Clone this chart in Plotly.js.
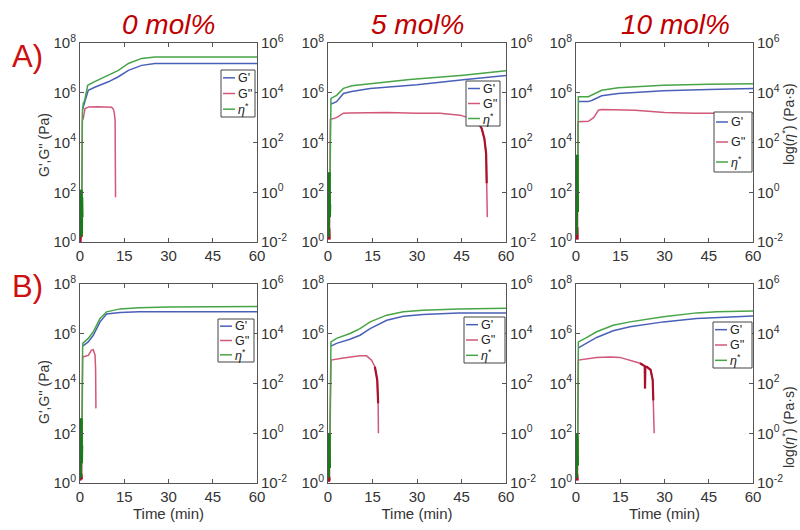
<!DOCTYPE html>
<html><head><meta charset="utf-8">
<script src="https://cdn.plot.ly/plotly-3.0.1.min.js"></script>
<style>html,body{margin:0;padding:0;background:#fff}#chart{width:800px;height:530px}</style>
</head><body><div id="chart"></div>
<script>
// ---------- tick labels ----------
const xTickVals = [0, 15, 30, 45, 60];
const leftTickVals = [1, 1e2, 1e4, 1e6, 1e8];
const leftTickText = ['10<sup>0</sup>', '10<sup>2</sup>', '10<sup>4</sup>', '10<sup>6</sup>', '10<sup>8</sup>'];
const rightTickVals = [1e-2, 1, 1e2, 1e4, 1e6];
const rightTickText = ['10<sup>-2</sup>', '10<sup>0</sup>', '10<sup>2</sup>', '10<sup>4</sup>', '10<sup>6</sup>'];
const panelTitles = ['0 mol%', '5 mol%', '10 mol%'];
const rowLabels = ['A)', 'B)'];
const seriesNames = ["G'", "G''", '<i>η</i><sup>*</sup>'];

// ---------- A) 0 mol% ----------
const tGpA1  = [0.8, 1.1, 1.7, 2.3, 2.8, 5, 9.6, 13, 16.4, 20.9, 25.4, 30, 45, 60];
const GpA1   = [2.0e5, 2.7e5, 5.0e5, 7.9e5, 1.26e6, 1.66e6, 2.75e6, 4.4e6, 7.9e6, 1.26e7, 1.5e7, 1.5e7, 1.5e7, 1.5e7];
const tGppA1 = [0.1, 0.2, 0.3, 0.4, 0.5, 0.6, 0.8, 1.1, 1.7, 3, 6, 9, 10.7, 11.3, 11.6, 11.9, 12.0, 12.05];
const GppA1  = [1, 3.2, 1.3, 4.0, 1.6, 3.2, 7.9e4, 9.3e4, 2.3e5, 2.7e5, 2.75e5, 2.7e5, 2.6e5, 2.2e5, 1.6e5, 7.9e4, 1.0e3, 63];
const tEtaA1 = [0.1, 0.2, 0.3, 0.4, 0.5, 0.6, 0.7, 0.8, 1.1, 1.6, 2.3, 2.6, 5, 9.6, 13, 16.4, 20.9, 25.4, 30, 45, 60];
const etaA1  = [0.016, 1.0, 0.032, 1.26, 0.02, 0.63, 0.1, 1.6e3, 3.7e3, 5.0e3, 1.26e4, 2.0e4, 2.8e4, 5.0e4, 7.9e4, 1.5e5, 2.4e5, 2.75e5, 2.75e5, 2.75e5, 2.75e5];

// ---------- A) 5 mol% ----------
const tGpA2  = [1.0, 2.9, 5.2, 8, 14.2, 30, 45.6, 60];
const GpA2   = [3.5e5, 4.4e5, 9.3e5, 1.12e6, 1.48e6, 2.1e6, 3.3e6, 4.9e6];
const tGppA2 = [0.1, 0.2, 0.3, 0.4, 0.5, 0.8, 2.9, 5.2, 7, 20, 30, 37.7, 44.5, 50.1, 51.8, 52.7, 53.3, 53.5, 53.7];
const GppA2  = [1.26, 4.0, 1.6, 3.2, 1.26, 8.5e4, 1.0e5, 1.5e5, 1.55e5, 1.6e5, 1.5e5, 1.5e5, 1.26e5, 7.9e4, 3.7e4, 1.45e4, 3.6e3, 230, 10];
const tEtaA2 = [0.1, 0.2, 0.3, 0.4, 0.5, 0.6, 1.0, 2.9, 5.2, 8, 14.2, 27.6, 45.6, 60];
const etaA2  = [0.016, 3.2, 0.032, 6.3, 0.1, 0.32, 5.9e3, 7.9e3, 1.5e4, 1.9e4, 2.3e4, 3.4e4, 5.1e4, 7.6e4];

// ---------- A) 10 mol% ----------
const tGpA3  = [0.8, 4.2, 5.5, 8.7, 14.3, 29.6, 45, 60];
const GpA3   = [4.4e5, 4.4e5, 5.0e5, 7.6e5, 9.3e5, 1.2e6, 1.35e6, 1.48e6];
const tGppA3 = [0.1, 0.2, 0.3, 0.4, 0.5, 0.7, 4.2, 6, 7.6, 8.8, 20, 30, 40, 60];
const GppA3  = [1.26, 3.2, 1.6, 4.0, 1.26, 6.8e4, 7.1e4, 1.0e5, 2.0e5, 2.1e5, 2.0e5, 1.6e5, 1.5e5, 1.5e5];
const tEtaA3 = [0.1, 0.2, 0.3, 0.4, 0.5, 0.8, 4.2, 6, 8.7, 14.3, 29.6, 45, 60];
const etaA3  = [0.02, 2.0, 0.04, 32, 0.16, 6.9e3, 6.9e3, 8.9e3, 1.26e4, 1.6e4, 2.0e4, 2.2e4, 2.3e4];

// ---------- B) 0 mol% ----------
const tGpB1  = [0.9, 2.8, 4.5, 6.8, 9.0, 13.6, 20, 60];
const GpB1   = [3.2e5, 4.7e5, 8.7e5, 3.0e6, 6.2e6, 7.2e6, 7.6e6, 7.6e6];
const tGppB1 = [0.1, 0.2, 0.3, 0.4, 0.6, 0.9, 2.8, 3.9, 4.5, 5.1, 5.3, 5.4];
const GppB1  = [1.26, 2.5, 1.26, 2.24, 1.41, 1.17e5, 1.35e5, 2.2e5, 2.3e5, 1.38e5, 3.5e4, 1.0e3];
const tEtaB1 = [0.1, 0.2, 0.3, 0.4, 0.5, 0.6, 0.9, 2.8, 4.5, 6.8, 9.0, 13.6, 20, 30, 60];
const etaB1  = [0.016, 2.5, 0.025, 4.0, 0.063, 0.32, 4.1e3, 6.5e3, 1.2e4, 4.1e4, 7.6e4, 1.0e5, 1.12e5, 1.2e5, 1.26e5];

// ---------- B) 5 mol% ----------
const tGpB2  = [1.0, 2.9, 7.4, 10.8, 14.2, 19.8, 25.4, 32, 44, 60];
const GpB2   = [3.2e5, 4.1e5, 6.0e5, 8.7e5, 1.6e6, 3.5e6, 5.1e6, 6.0e6, 6.8e6, 6.8e6];
const tGppB2 = [0.1, 0.2, 0.3, 0.4, 0.5, 1.0, 5.2, 10.8, 13, 14.7, 15.8, 16.6, 16.9, 17.0];
const GppB2  = [1.26, 2.0, 1.12, 1.78, 1.26, 8.7e4, 1.07e5, 1.29e5, 1.29e5, 8.7e4, 4.7e4, 1.38e4, 1.6e3, 100];
const tEtaB2 = [0.1, 0.2, 0.3, 0.4, 0.5, 1.0, 2.9, 7.4, 10.8, 14.2, 19.8, 25.4, 32, 44, 60];
const etaB2  = [0.016, 0.8, 0.025, 1.0, 0.04, 4.7e3, 6.5e3, 1.02e4, 1.6e4, 3.0e4, 5.6e4, 7.6e4, 8.9e4, 1.0e5, 1.05e5];

// ---------- B) 10 mol% ----------
const tGpB3  = [0.8, 3.1, 7, 12.6, 18.3, 29.6, 40.9, 60];
const GpB3   = [2.7e5, 3.8e5, 7.1e5, 1.32e6, 1.9e6, 3.0e6, 4.1e6, 5.2e6];
const tGppB3 = [0.1, 0.2, 0.3, 0.4, 0.5, 0.8, 7, 11.5, 14.9, 18.3, 21.7, 23.3, 23.4, 23.5, 24, 25.3, 26, 26.2, 26.5];
const GppB3  = [1.26, 2.5, 1.26, 2.0, 1.26, 8.7e4, 1.12e5, 1.17e5, 1.12e5, 8.7e4, 6.5e4, 5.0e4, 6.3e3, 4.8e4, 4.7e4, 3.5e4, 1.38e4, 2.1e3, 100];
const tEtaB3 = [0.1, 0.2, 0.3, 0.4, 0.5, 0.8, 3.1, 7, 12.6, 18.3, 29.6, 40.9, 47.7, 60];
const etaB3  = [0.016, 1.0, 0.032, 0.63, 0.05, 4.7e3, 6.5e3, 1.2e4, 2.2e4, 3.0e4, 4.8e4, 6.9e4, 7.6e4, 8.3e4];

// ---------- layout helpers (pixels in an 800x530 page) ----------
const W = 800, H = 530;
const colPx = [[80, 257], [328, 506], [576, 753]];
const rowPx = [[43, 242], [284, 483]];
const px = x => x / W;
const py = y => 1 - y / H;

const C = {gp: '#4a60b8', gpp: '#d2587a', eta: '#47a447', etaDark: '#187a18', gppDark: '#a8102c'};
const FONT = 'Liberation Sans, Arial, Helvetica, sans-serif';

const panels = [
  {tGp: tGpA1, gp: GpA1, tGpp: tGppA1, gpp: GppA1, tEta: tEtaA1, eta: etaA1, legend: [221, 70, 255, 117], dense: null},
  {tGp: tGpA2, gp: GpA2, tGpp: tGppA2, gpp: GppA2, tEta: tEtaA2, eta: etaA2, legend: [466, 81, 500, 126], dense: [50, 53.5]},
  {tGp: tGpA3, gp: GpA3, tGpp: tGppA3, gpp: GppA3, tEta: tEtaA3, eta: etaA3, legend: [714, 112, 752, 172], dense: null},
  {tGp: tGpB1, gp: GpB1, tGpp: tGppB1, gpp: GppB1, tEta: tEtaB1, eta: etaB1, legend: [218, 319, 254, 362], dense: null},
  {tGp: tGpB2, gp: GpB2, tGpp: tGppB2, gpp: GppB2, tEta: tEtaB2, eta: etaB2, legend: [464, 317, 505, 363], dense: [15.8, 16.9]},
  {tGp: tGpB3, gp: GpB3, tGpp: tGppB3, gpp: GppB3, tEta: tEtaB3, eta: etaB3, legend: [713, 322, 752, 368], dense: [21.7, 26.2]}
];

const traces = [];
const layout = {
  width: W, height: H, margin: {l: 0, r: 0, t: 0, b: 0},
  paper_bgcolor: '#fff', plot_bgcolor: '#fff', showlegend: false,
  font: {family: FONT, color: '#333', size: 15},
  annotations: [], shapes: []
};

const axCommon = {
  showgrid: false, zeroline: false, showline: true, linecolor: '#555', linewidth: 1,
  ticks: 'inside', ticklen: 4, tickcolor: '#555', tickfont: {family: FONT, size: 15, color: '#333'}
};

function pick(t, v, keep) {
  const x = [], y = [];
  t.forEach((ti, i) => { if (keep(ti, v[i])) { x.push(ti); y.push(v[i]); } });
  return {x, y};
}

panels.forEach((p, i) => {
  const n = i + 1, col = i % 3, row = Math.floor(i / 3);
  const xa = 'x' + (n === 1 ? '' : n), ya = 'y' + (n === 1 ? '' : n), y2 = 'y' + (n + 6);
  const xd = [px(colPx[col][0]), px(colPx[col][1])];
  const yd = [py(rowPx[row][1]), py(rowPx[row][0])];

  layout['xaxis' + (n === 1 ? '' : n)] = Object.assign({}, axCommon, {
    domain: xd, anchor: ya, range: [0, 60], tickvals: xTickVals, mirror: 'ticks',
    title: row === 1 ? {text: 'Time (min)', font: {family: FONT, size: 15, color: '#333'}, standoff: 4} : {text: ''}
  });
  layout['yaxis' + (n === 1 ? '' : n)] = Object.assign({}, axCommon, {
    domain: yd, anchor: xa, type: 'log', range: [0, 8], tickvals: leftTickVals, ticktext: leftTickText, mirror: 'ticks'
  });
  layout['yaxis' + (n + 6)] = Object.assign({}, axCommon, {
    domain: yd, anchor: xa, overlaying: ya, side: 'right', type: 'log', range: [-2, 6],
    tickvals: rightTickVals, ticktext: rightTickText
  });

  traces.push({type: 'scatter', mode: 'lines', x: p.tGp, y: p.gp, xaxis: xa, yaxis: ya, name: seriesNames[0],
    line: {color: C.gp, width: 1.5}});
  traces.push({type: 'scatter', mode: 'lines', x: p.tGpp, y: p.gpp, xaxis: xa, yaxis: ya, name: seriesNames[1],
    line: {color: C.gpp, width: 1.5}});
  const gNoise = pick(p.tGpp, p.gpp, (t, v) => t < 1 && v < 10);
  traces.push({type: 'scatter', mode: 'lines', x: gNoise.x, y: gNoise.y, xaxis: xa, yaxis: ya,
    line: {color: C.gppDark, width: 2.5}, hoverinfo: 'skip'});
  if (p.dense) {
    const d = pick(p.tGpp, p.gpp, t => t >= p.dense[0] && t <= p.dense[1]);
    traces.push({type: 'scatter', mode: 'lines', x: d.x, y: d.y, xaxis: xa, yaxis: ya,
      line: {color: C.gppDark, width: 2.2}, hoverinfo: 'skip'});
  }
  traces.push({type: 'scatter', mode: 'lines', x: p.tEta, y: p.eta, xaxis: xa, yaxis: y2, name: seriesNames[2],
    line: {color: C.eta, width: 1.5}});
  const eNoise = pick(p.tEta, p.eta, (t, v) => t < 1 && v < 100);
  traces.push({type: 'scatter', mode: 'lines', x: eNoise.x, y: eNoise.y, xaxis: xa, yaxis: y2,
    line: {color: C.etaDark, width: 3}, hoverinfo: 'skip'});

  // legend box (drawn by hand, MATLAB style)
  const [lx0, ly0, lx1, ly1] = p.legend;
  layout.shapes.push({type: 'rect', xref: 'paper', yref: 'paper', x0: px(lx0), x1: px(lx1), y0: py(ly1), y1: py(ly0),
    fillcolor: '#fff', line: {color: '#444', width: 1}, layer: 'above'});
  const colors = [C.gp, C.gpp, C.eta];
  seriesNames.forEach((nm, k) => {
    const ey = ly0 + (ly1 - ly0) * (k + 0.5) / 3;
    layout.shapes.push({type: 'line', xref: 'paper', yref: 'paper', x0: px(lx0 + 2), x1: px(lx0 + 14), y0: py(ey), y1: py(ey),
      line: {color: colors[k], width: 1.5}, layer: 'above'});
    layout.annotations.push({xref: 'paper', yref: 'paper', x: px(lx0 + 14.5), y: py(ey), xanchor: 'left', yanchor: 'middle',
      text: nm, showarrow: false, font: {family: FONT, size: 12.5, color: '#222'}});
  });
});

const titleX = [168, 417, 675];
panelTitles.forEach((t, k) => layout.annotations.push({xref: 'paper', yref: 'paper', x: px(titleX[k]), y: py(25),
  xanchor: 'center', yanchor: 'middle', text: '<i>' + t + '</i>', showarrow: false,
  font: {family: FONT, size: 28, color: '#c00000'}}));
const rowLabelY = [57, 286];
rowLabels.forEach((t, k) => layout.annotations.push({xref: 'paper', yref: 'paper', x: px(27), y: py(rowLabelY[k]),
  xanchor: 'center', yanchor: 'middle', text: t, showarrow: false, font: {family: FONT, size: 31, color: '#cc1010'}}));
[145, 392].forEach(y => layout.annotations.push({xref: 'paper', yref: 'paper', x: px(44), y: py(y),
  xanchor: 'center', yanchor: 'middle', textangle: -90, text: "G',G'' (Pa)", showarrow: false,
  font: {family: FONT, size: 14, color: '#333'}}));
[124, 427].forEach(y => layout.annotations.push({xref: 'paper', yref: 'paper', x: px(788), y: py(y),
  xanchor: 'center', yanchor: 'middle', textangle: -90, text: 'log(<i>η</i><sup>*</sup>) (Pa·s)', showarrow: false,
  font: {family: FONT, size: 14, color: '#333'}}));

Plotly.newPlot('chart', traces, layout, {displayModeBar: false, staticPlot: true});
</script></body></html>
